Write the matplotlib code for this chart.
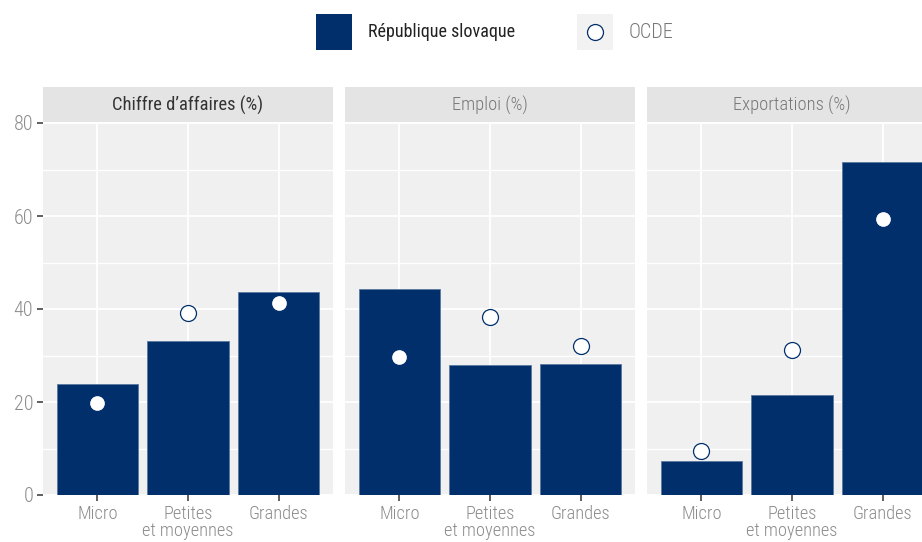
import matplotlib
matplotlib.use("Agg")
import matplotlib.pyplot as plt
from matplotlib.patches import Rectangle
from matplotlib.lines import Line2D
import numpy as np

plt.rcParams['font.family'] = ['Roboto Condensed', 'DejaVu Sans']

categories = ["Micro", "Petites\net moyennes", "Grandes"]
panels = ["Chiffre d’affaires (%)", "Emploi (%)", "Exportations (%)"]
slovaquie = [
    [23.9, 33.1, 43.6],
    [44.3, 28.0, 28.2],
    [7.3, 21.5, 71.6],
]
ocde = [
    [19.8, 39.1, 41.3],
    [29.7, 38.3, 32.0],
    [9.5, 31.2, 59.4],
]
yticks = [0, 20, 40, 60, 80]
legend_labels = ["République slovaque", "OCDE"]

NAVY = "#002f6c"
PANEL_BG = "#f0f0f0"
STRIP_BG = "#e4e4e4"
GRAY_TXT = "#8c8c8c"

W, H = 922, 542
fig = plt.figure(figsize=(W / 100, H / 100), dpi=100)

panel_left = [43, 345, 647]
panel_w = 290
panel_top = 123
panel_bottom = 495
strip_top = 87

for i, name in enumerate(panels):
    x0 = panel_left[i]
    ax = fig.add_axes([x0 / W, 1 - panel_bottom / H, panel_w / W, (panel_bottom - panel_top) / H])
    ax.set_facecolor(PANEL_BG)
    xs = np.arange(len(categories))
    ax.set_xlim(-0.6, len(categories) - 0.4)
    ax.set_ylim(0, 80)
    ax.set_yticks(yticks)
    ax.set_yticks([10, 30, 50, 70], minor=True)
    ax.set_xticks(xs)
    ax.grid(True, which='major', color='white', linewidth=1.3)
    ax.grid(True, which='minor', axis='y', color='white', linewidth=1.0)
    ax.set_axisbelow(True)
    for s in ax.spines.values():
        s.set_visible(False)
    ax.bar(xs, slovaquie[i], width=0.9, color=NAVY, edgecolor="#5a78a0", linewidth=0.6, zorder=2)
    ax.plot(xs, ocde[i], linestyle='none', marker='o', markersize=11.5,
            markerfacecolor='white', markeredgecolor=NAVY, markeredgewidth=0.9, zorder=3)
    ax.set_xticklabels(categories, fontsize=13.2, color=GRAY_TXT, fontweight='light', linespacing=0.98)
    ax.tick_params(axis='x', which='major', length=4, width=1.2, color="#444444", pad=3)
    ax.tick_params(axis='y', which='minor', length=0)
    if i == 0:
        ax.set_yticklabels([str(t) for t in yticks], fontsize=14.5, color=GRAY_TXT, fontweight='light')
        ax.tick_params(axis='y', which='major', length=4, width=1.2, color="#444444", pad=3)
    else:
        ax.tick_params(axis='y', which='major', length=0, labelleft=False)

    # strip
    sax = fig.add_axes([x0 / W, 1 - (panel_top - 1) / H, panel_w / W, (panel_top - 1 - strip_top) / H])
    sax.set_facecolor(STRIP_BG)
    sax.set_xticks([])
    sax.set_yticks([])
    for s in sax.spines.values():
        s.set_visible(False)
    sax.text(0.5, 0.47, name, ha='center', va='center', fontsize=13.3,
             color="#333333" if i == 0 else "#777777",
             fontweight='normal' if i == 0 else 'light', transform=sax.transAxes)

# legend
fig.patches.append(Rectangle((316 / W, 1 - 50 / H), 36 / W, 36 / H, transform=fig.transFigure,
                             facecolor=NAVY, edgecolor='none'))
fig.text(368 / W, 1 - 32 / H, legend_labels[0], ha='left', va='center', fontsize=13, color="#222222")
fig.patches.append(Rectangle((577 / W, 1 - 50 / H), 36 / W, 36 / H, transform=fig.transFigure,
                             facecolor="#f2f2f2", edgecolor='none'))
fig.lines.append(Line2D([595 / W], [1 - 32 / H], transform=fig.transFigure, linestyle='none',
                        marker='o', markersize=11.5, markerfacecolor='white',
                        markeredgecolor=NAVY, markeredgewidth=0.9))
fig.text(629 / W, 1 - 32 / H, legend_labels[1], ha='left', va='center', fontsize=14.5,
         color="#777777", fontweight='light')

fig.savefig("out.png", dpi=100)
